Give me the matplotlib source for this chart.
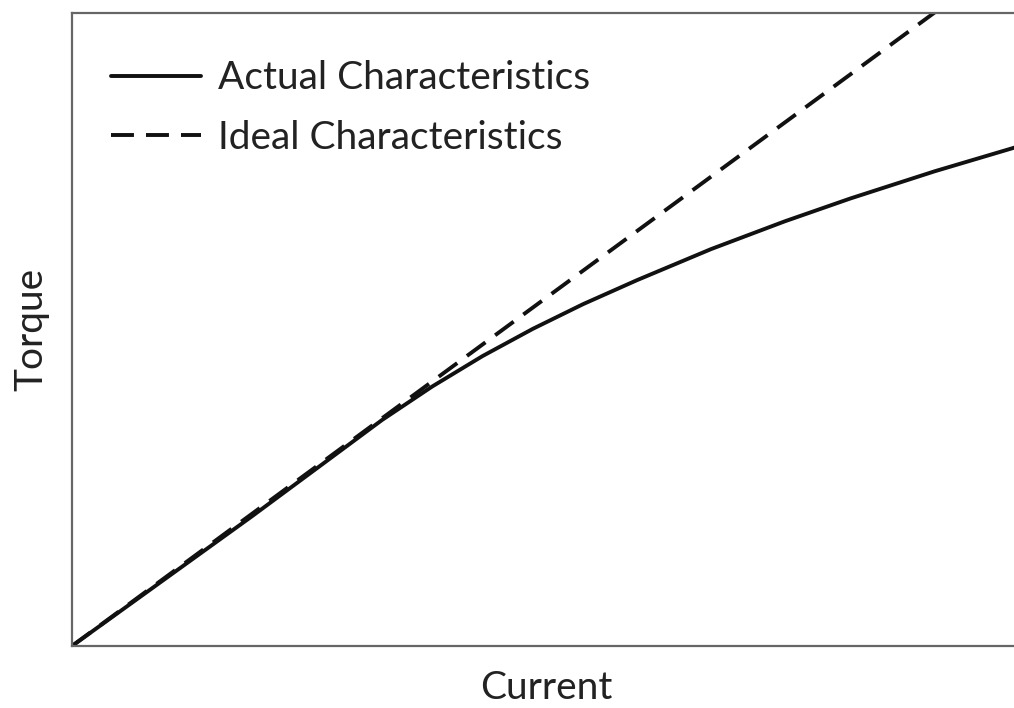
import matplotlib
matplotlib.use("Agg")
from matplotlib import pyplot as plt

# valores (escala arbitrária 0-10)
corrente_real = [0, 1.89, 2.63, 3.27, 3.80, 4.33, 4.86, 5.39, 5.96, 6.74, 7.52, 8.21, 9.10, 10.0]
torque_real = [0, 2.04, 2.86, 3.57, 4.10, 4.58, 5.01, 5.40, 5.78, 6.27, 6.71, 7.07, 7.50, 7.90]

corrente_ideal = [0, 10.0]
torque_ideal = [0, 11.0]

plt.rcParams['font.family'] = ['Lato', 'DejaVu Sans']

fig = plt.figure(figsize=(10.14, 7.08), dpi=100)
ax = fig.add_axes([0.071, 0.0876, 0.935, 0.894])

ax.plot(corrente_real, torque_real, color='#111111', linewidth=2.8,
        label='Actual Characteristics', solid_capstyle='round', solid_joinstyle='round')
ax.plot(corrente_ideal, torque_ideal, color='#111111', linewidth=2.8,
        linestyle=(0, (5.9, 3.1)), dash_capstyle='butt',
        label='Ideal Characteristics')

ax.set_xlim(0, 10)
ax.set_ylim(0, 10)
ax.set_xticks([])
ax.set_yticks([])
for lado in ['left', 'bottom', 'top']:
    ax.spines[lado].set_color('#666666')
    ax.spines[lado].set_linewidth(1.6)
ax.spines['right'].set_visible(False)

ax.set_xlabel('Current', fontsize=28, color='#222222', labelpad=17)
ax.set_ylabel('Torque', fontsize=28, color='#222222', labelpad=16)

ax.legend(loc='upper left', bbox_to_anchor=(0.025, 0.95), borderaxespad=0,
          frameon=False, fontsize=28, handlelength=2.3, handletextpad=0.45,
          labelspacing=0.6, labelcolor='#222222')

fig.savefig('out.png', dpi=100)
